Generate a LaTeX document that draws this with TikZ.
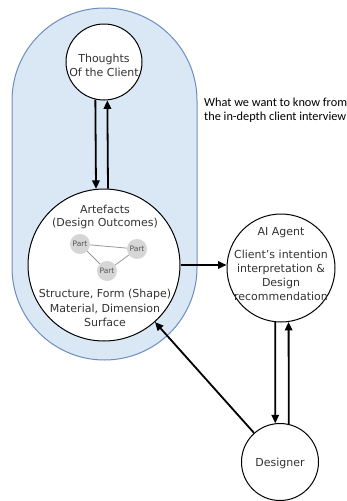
\documentclass[tikz,border=0pt]{standalone}
\usepackage{fontspec}
\setmainfont{DejaVu Sans}
\newfontfamily\notefont{Carlito}
\usetikzlibrary{arrows.meta}
\definecolor{bluefill}{HTML}{DAE8F5}
\definecolor{blueline}{HTML}{6C8EBF}
\definecolor{txt}{HTML}{333333}
\definecolor{partfill}{HTML}{D6D6D6}
\definecolor{parttxt}{HTML}{555555}
\tikzset{
  bubble/.style={circle, draw=black, line width=1pt, fill=white, inner sep=0pt},
  lbl/.style={text=txt, font=\fontsize{11}{14}\selectfont, align=center, inner sep=0pt},
  arr/.style={line width=1.8pt, -{Triangle[length=8.5pt,width=7.5pt]}},
  partnode/.style={circle, fill=partfill, minimum size=20pt, inner sep=0pt, text=parttxt, font=\fontsize{7.5}{8}\selectfont},
  partlink/.style={draw=gray!80, line width=0.8pt},
}
\begin{document}
\begin{tikzpicture}[x=1pt,y=-1pt]
\useasboundingbox (0,0) rectangle (347,501);
\draw[fill=bluefill, draw=blueline, line width=1pt, rounded corners=92.5pt] (12,8) rectangle (197,360);
\node[bubble, minimum size=76pt] (thoughts) at (104,62) {};
\node[bubble, minimum size=152pt] (artefacts) at (104,265) {};
\node[bubble, minimum size=108pt] (ai) at (281,268) {};
\node[bubble, minimum size=77pt] (designer) at (280,462) {};
% texts
\node[lbl] (tThoughts) at (104,65) {Thoughts\\Of the Client};
\node[lbl, font=\fontsize{11}{13}\selectfont] (tArt) at (105,217) {Artefacts\\(Design Outcomes)};
\node[lbl, font=\fontsize{11}{14.5}\selectfont] (tStruct) at (105,308) {Structure, Form (Shape)\\Material, Dimension\\Surface};
\node[lbl] (tAI) at (281,233) {AI Agent};
\node[lbl] (tAIdesc) at (281,275) {Client's intention\\interpretation \&\\Design\\recommendation};
\node[lbl] (tDesigner) at (280,463) {Designer};
\node[anchor=west, align=left, inner sep=0pt, text=black, font=\notefont\fontsize{12.3}{14}\selectfont] (note) at (204,110) {What we want to know from\\the in-depth client interview};
% parts
\node[partnode] (p1) at (80,244) {Part};
\node[partnode] (p2) at (137,249) {Part};
\node[partnode] (p3) at (107,271) {Part};
\draw[partlink] (p1) -- (p2);
\draw[partlink] (p1) -- (p3);
\draw[partlink] (p3) -- (p2);
% arrows
\draw[arr] (thoughts.-103.7) -- (artefacts.96.8);
\draw[arr] (artefacts.87.7) -- (thoughts.-85.5);
\draw[arr] (artefacts.east) -- (artefacts.east -| ai.west);
\draw[arr] (ai.-96.4) -- (designer.97.6);
\draw[arr] (designer.77.8) -- (ai.-82.6);
\draw[arr] (designer) -- (artefacts);
\end{tikzpicture}
\end{document}
